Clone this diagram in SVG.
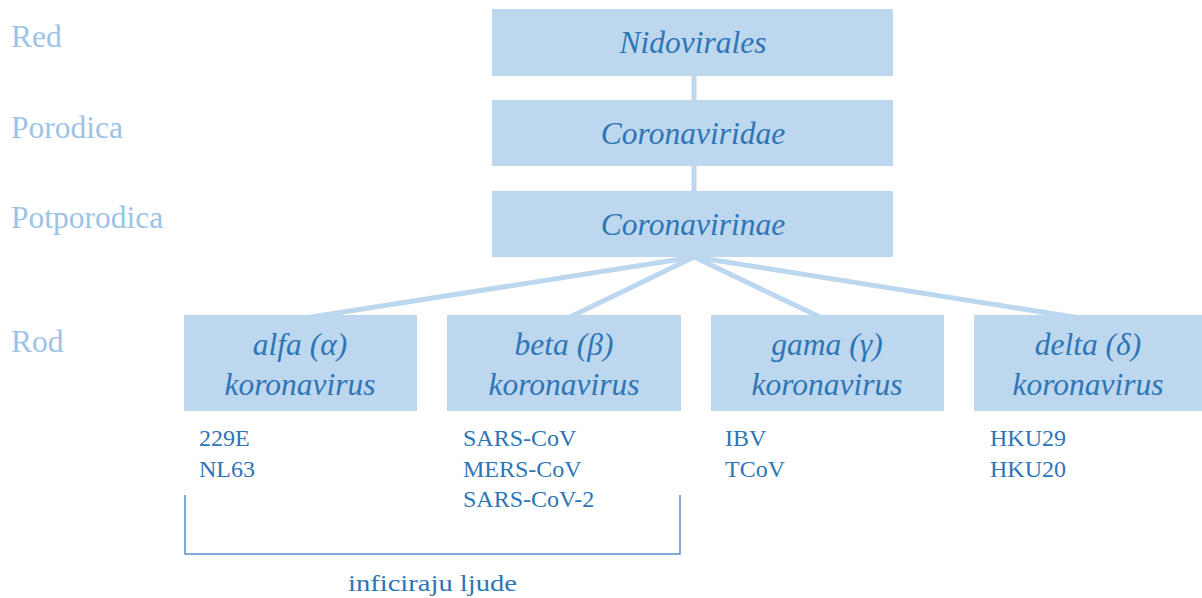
<svg xmlns="http://www.w3.org/2000/svg" width="1202" height="598" viewBox="0 0 1202 598">
<style>
.box{fill:#BDD7EE}
.conn{stroke:#BDD7EE;stroke-width:5;fill:none;stroke-linecap:butt}
.t{font-family:"Liberation Serif","Times New Roman",serif;font-style:italic;font-size:31.5px;fill:#2E75B6;text-anchor:middle}
.lvl{font-family:"Liberation Serif","Times New Roman",serif;font-size:31.5px;fill:#9DC3E6}
.sp{font-family:"Liberation Serif","Times New Roman",serif;font-size:24px;fill:#2E75B6}
.br{stroke:#5B8FCB;stroke-width:1.5;fill:none}
</style>
<rect width="1202" height="598" fill="#FFFFFF"/>
<g id="levels">
<text class="lvl" x="11" y="47">Red</text>
<text class="lvl" x="11" y="138">Porodica</text>
<text class="lvl" x="11" y="228">Potporodica</text>
<text class="lvl" x="11" y="352">Rod</text>
</g>
<g id="connectors">
<line class="conn" x1="694" y1="76" x2="694" y2="100"/>
<line class="conn" x1="694" y1="166" x2="694" y2="191"/>
<line class="conn" x1="694" y1="257" x2="305" y2="318"/>
<line class="conn" x1="694" y1="257" x2="568" y2="318"/>
<line class="conn" x1="694" y1="257" x2="822" y2="318"/>
<line class="conn" x1="694" y1="257" x2="1080" y2="318"/>
</g>
<g id="nidovirales">
<rect class="box" x="492" y="9" width="401" height="67"/>
<text class="t" x="693" y="53">Nidovirales</text>
</g>
<g id="coronaviridae">
<rect class="box" x="492" y="100" width="401" height="66"/>
<text class="t" x="693" y="144">Coronaviridae</text>
</g>
<g id="coronavirinae">
<rect class="box" x="492" y="191" width="401" height="66"/>
<text class="t" x="693" y="235">Coronavirinae</text>
</g>
<g id="alfa">
<rect class="box" x="184" y="315" width="233" height="96"/>
<text class="t" x="300" y="355">alfa (α)</text>
<text class="t" x="300" y="395">koronavirus</text>
</g>
<g id="beta">
<rect class="box" x="447" y="315" width="234" height="96"/>
<text class="t" x="564" y="355">beta (β)</text>
<text class="t" x="564" y="395">koronavirus</text>
</g>
<g id="gama">
<rect class="box" x="711" y="315" width="233" height="96"/>
<text class="t" x="827" y="355">gama (γ)</text>
<text class="t" x="827" y="395">koronavirus</text>
</g>
<g id="delta">
<rect class="box" x="974" y="315" width="228" height="96"/>
<text class="t" x="1088" y="355">delta (δ)</text>
<text class="t" x="1088" y="395">koronavirus</text>
</g>
<g id="species">
<text class="sp" x="199" y="446">229E</text>
<text class="sp" x="199" y="477">NL63</text>
<text class="sp" x="463" y="446">SARS-CoV</text>
<text class="sp" x="463" y="477">MERS-CoV</text>
<text class="sp" x="463" y="507">SARS-CoV-2</text>
<text class="sp" x="725" y="446">IBV</text>
<text class="sp" x="725" y="477">TCoV</text>
<text class="sp" x="990" y="446">HKU29</text>
<text class="sp" x="990" y="477">HKU20</text>
</g>
<g id="bracket">
<path class="br" d="M185 495 V554 H680 V495"/>
<text class="sp" x="348" y="591" font-size="27" textLength="169" lengthAdjust="spacingAndGlyphs">inficiraju ljude</text>
</g>
</svg>
